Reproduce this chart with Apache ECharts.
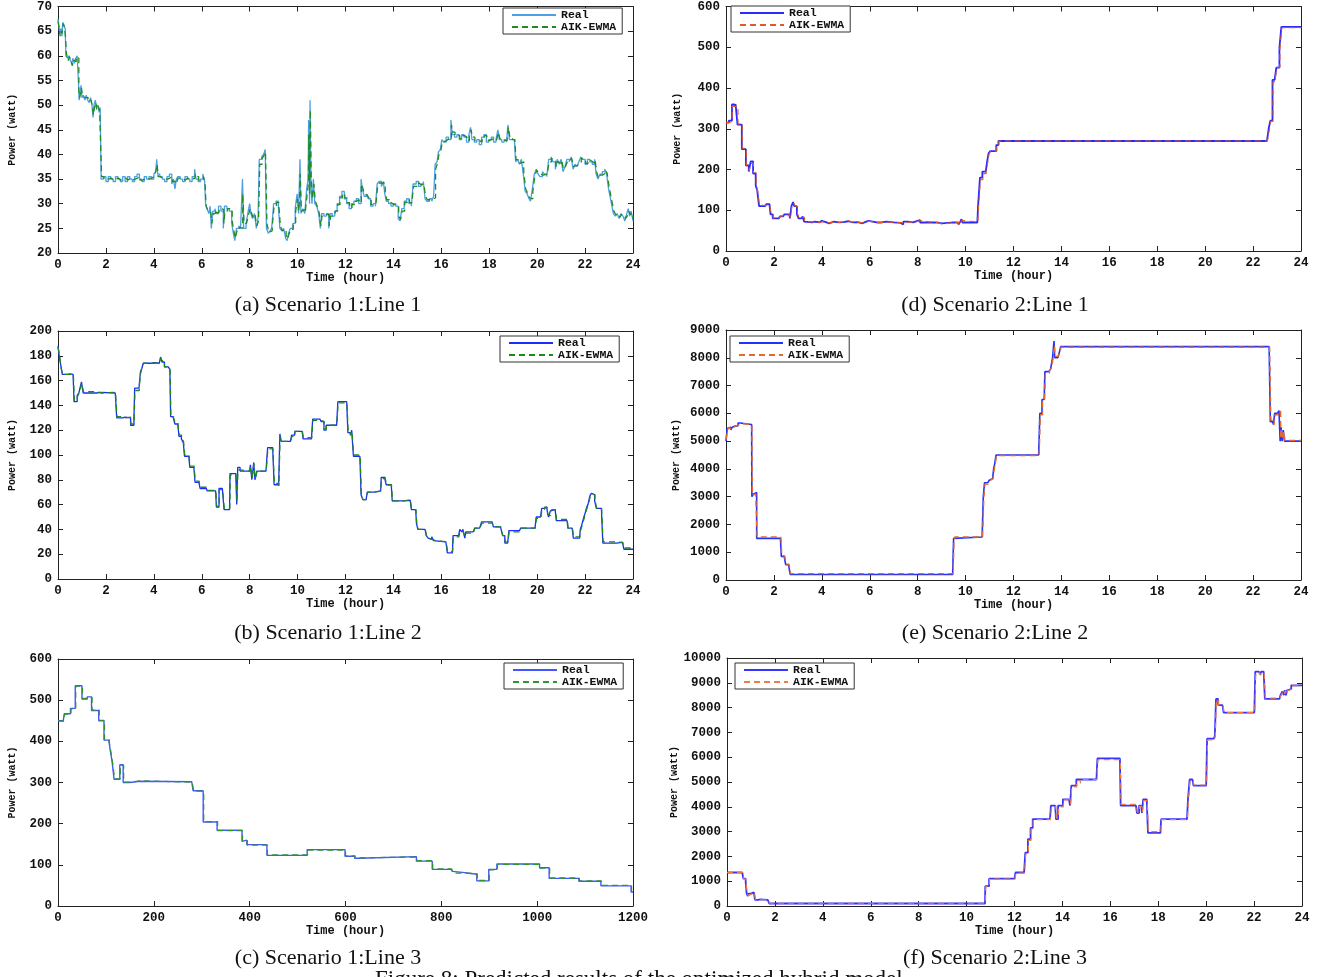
<!DOCTYPE html>
<html>
<head>
<meta charset="utf-8">
<script src="https://cdn.jsdelivr.net/npm/echarts@6/dist/echarts.min.js"></script>
<style>
html,body{margin:0;padding:0;background:#fff;}
#chart{width:1326px;height:977px;}
</style>
</head>
<body>
<div id="chart"></div>
<script>
// ---------- DATA (flat lists of time, value pairs) ----------
const a_real = [0,67.5, 0.04,66, 0.08,64.5, 0.12,65.5, 0.16,64, 0.2,66.8, 0.26,66, 0.3,65.5, 0.33,60, 0.4,59.5, 0.46,60, 0.52,59, 0.58,58.5, 0.62,59.5, 0.68,58.5, 0.74,59.5, 0.8,60, 0.86,54, 0.88,51, 0.92,52, 0.96,54, 1.0,51.5, 1.06,52, 1.12,51, 1.18,52, 1.24,51, 1.3,50.5, 1.36,51.5, 1.42,50, 1.46,47.5, 1.5,50, 1.56,51, 1.6,49.5, 1.66,50, 1.72,48.5, 1.76,49.5, 1.8,35, 1.9,35.5, 2.0,34.5, 2.1,35.5, 2.2,35, 2.3,34.5, 2.4,35.5, 2.5,35, 2.6,34.5, 2.7,35.5, 2.8,34.5, 2.9,35.5, 3.0,35, 3.1,34.5, 3.2,35.5, 3.3,36, 3.4,35, 3.5,34.5, 3.6,35.5, 3.7,35, 3.8,35.5, 3.9,35, 4.0,36, 4.08,36.5, 4.12,39, 4.16,36, 4.25,35.5, 4.35,35, 4.45,34.5, 4.55,35.5, 4.65,36, 4.75,34, 4.82,35, 4.88,33, 4.94,35, 5.0,35.5, 5.1,35, 5.2,34.5, 5.3,35.5, 5.4,35, 5.5,34.5, 5.6,35.5, 5.7,37, 5.76,35, 5.85,34.5, 5.95,35, 6.05,36, 6.12,34.5, 6.16,30, 6.22,29, 6.3,28, 6.35,29.5, 6.4,25, 6.46,28.5, 6.55,29, 6.6,28, 6.7,29.5, 6.8,28.5, 6.9,25, 6.95,29.5, 7.05,29, 7.15,28.5, 7.25,26, 7.32,24, 7.38,22.5, 7.45,25, 7.55,25.5, 7.62,25, 7.7,35, 7.75,25, 7.85,26, 7.92,28, 8.0,30, 8.05,28, 8.12,27, 8.2,28, 8.28,25, 8.35,27, 8.4,39, 8.5,39.5, 8.58,40, 8.65,41, 8.7,25, 8.78,24, 8.85,24.5, 8.92,25, 9.0,30, 9.1,30.5, 9.2,29.5, 9.26,25, 9.34,24.5, 9.42,25, 9.5,23, 9.56,22.5, 9.62,24, 9.7,25, 9.8,26, 9.9,29, 9.98,32, 10.04,28, 10.1,39, 10.14,28, 10.22,29, 10.3,28, 10.38,33, 10.44,35, 10.46,47, 10.5,30, 10.52,51, 10.56,34, 10.6,30, 10.66,35, 10.72,30, 10.8,29.5, 10.88,28, 10.95,25, 11.0,28, 11.1,27.5, 11.2,28, 11.3,25, 11.36,28, 11.45,27.5, 11.55,28.5, 11.65,30, 11.75,31.5, 11.85,32.5, 11.95,31, 12.05,30, 12.15,29, 12.25,30, 12.35,30.5, 12.45,31, 12.55,30, 12.65,35, 12.7,33, 12.78,31.5, 12.88,32, 12.95,31, 13.05,29.5, 13.15,30, 13.25,29.5, 13.32,34, 13.4,34.5, 13.5,33.5, 13.58,34.5, 13.64,32, 13.7,30.5, 13.8,30, 13.9,29.5, 14.0,30, 14.1,29.5, 14.2,27, 14.28,26.5, 14.35,29, 14.45,30.5, 14.55,31, 14.65,30, 14.75,29.5, 14.82,34, 14.95,34.5, 15.05,33.5, 15.15,34, 15.25,34.5, 15.32,31, 15.4,30.5, 15.5,31, 15.6,30.5, 15.68,31.5, 15.74,38, 15.82,38.5, 15.88,40.5, 15.96,41, 16.02,43, 16.1,42.5, 16.2,43.5, 16.3,43, 16.4,47, 16.46,44, 16.55,43.5, 16.65,44, 16.75,43, 16.85,44, 16.95,43.5, 17.05,42.5, 17.15,44, 17.22,45.5, 17.28,43, 17.38,42.5, 17.48,43, 17.58,42, 17.68,43.5, 17.78,44, 17.88,42.5, 17.98,43, 18.08,43.5, 18.18,42.5, 18.28,43, 18.36,45, 18.42,43, 18.52,42.5, 18.62,43, 18.72,42.5, 18.78,46, 18.84,43, 18.95,43, 19.05,43, 19.1,38.5, 19.18,39, 19.26,38, 19.34,39, 19.42,36, 19.5,32.5, 19.58,32, 19.66,31, 19.72,30.5, 19.8,33, 19.88,36, 19.96,37, 20.04,36, 20.12,35.5, 20.22,36.5, 20.3,36, 20.4,35.5, 20.48,39, 20.58,39.5, 20.66,38.5, 20.76,37, 20.84,39, 20.92,38, 21.0,39, 21.08,36.5, 21.16,37.5, 21.24,39, 21.34,38.5, 21.42,39.5, 21.5,37, 21.58,38, 21.66,37.5, 21.74,38.5, 21.82,39.5, 21.9,39, 22.0,38, 22.1,39, 22.2,38.5, 22.3,38, 22.4,39, 22.46,36, 22.54,35, 22.62,36, 22.72,36.5, 22.82,37, 22.9,36, 22.98,33, 23.04,31.5, 23.1,30, 23.18,28, 23.26,27.5, 23.34,28, 23.42,27, 23.5,28, 23.58,27.5, 23.66,26.5, 23.74,28, 23.8,29, 23.86,27.5, 23.92,28.5, 24,26.5];
const a_aik = [0,67, 0.05,65.5, 0.09,64, 0.13,65, 0.17,64.5, 0.22,66.5, 0.27,65.8, 0.31,64, 0.35,60.5, 0.42,59, 0.48,59.8, 0.54,58.8, 0.6,58, 0.64,59.2, 0.7,58.8, 0.76,59.8, 0.82,59.5, 0.87,53, 0.9,51.5, 0.94,52.5, 0.98,53.5, 1.02,51.8, 1.08,51.5, 1.14,51.8, 1.2,51.5, 1.26,50.8, 1.32,51, 1.38,51.2, 1.44,49.5, 1.48,48, 1.52,49.5, 1.58,50.5, 1.62,49, 1.68,49.8, 1.74,48.8, 1.78,49, 1.82,35.5, 1.92,35, 2.02,35, 2.12,35.2, 2.22,34.8, 2.32,35, 2.42,35.2, 2.52,34.8, 2.62,35, 2.72,35.2, 2.82,34.8, 2.92,35.2, 3.02,34.8, 3.12,35, 3.22,35.2, 3.32,35.5, 3.42,34.8, 3.52,35, 3.62,35.2, 3.72,35, 3.82,35.2, 3.92,35.5, 4.02,35.5, 4.1,37, 4.14,38, 4.18,35.5, 4.27,35.2, 4.37,35, 4.47,35, 4.57,35.2, 4.67,35.5, 4.77,34.5, 4.84,34.5, 4.9,34, 4.96,34.5, 5.02,35.2, 5.12,35, 5.22,34.8, 5.32,35.2, 5.42,35, 5.52,35, 5.62,35.2, 5.72,36, 5.78,35.5, 5.87,34.8, 5.97,35, 6.07,35.5, 6.14,34, 6.18,29.5, 6.24,28.8, 6.32,28.5, 6.37,28.5, 6.42,26, 6.48,28, 6.57,28.8, 6.62,28.2, 6.72,29, 6.82,28.8, 6.92,26, 6.97,28.5, 7.07,29, 7.17,28.5, 7.27,26.5, 7.34,24.5, 7.4,23, 7.47,24.5, 7.57,25.2, 7.64,25, 7.71,32, 7.77,26, 7.87,25.8, 7.94,27.5, 8.02,29, 8.07,28.2, 8.14,27.2, 8.22,27.8, 8.3,25.5, 8.37,26.5, 8.42,38, 8.52,39.2, 8.6,39.8, 8.66,40.5, 8.72,26, 8.8,24.2, 8.87,24.5, 8.94,25.2, 9.02,29.5, 9.12,30.2, 9.22,29.5, 9.28,25.5, 9.36,24.5, 9.44,24.8, 9.52,23.5, 9.58,22.8, 9.64,23.8, 9.72,24.8, 9.82,26, 9.92,28.5, 10.0,31, 10.06,28.5, 10.11,36, 10.16,28.5, 10.24,28.8, 10.32,28.2, 10.4,32, 10.45,34, 10.47,44, 10.51,32, 10.53,49, 10.57,35, 10.62,31, 10.68,34, 10.74,30.5, 10.82,29.5, 10.9,28.2, 10.97,25.5, 11.02,27.5, 11.12,27.8, 11.22,27.8, 11.32,25.5, 11.38,27.5, 11.47,27.8, 11.57,28.5, 11.67,29.8, 11.77,31.2, 11.87,32, 11.97,31.2, 12.07,30.2, 12.17,29.2, 12.27,29.8, 12.37,30.5, 12.47,30.8, 12.57,30.2, 12.66,34, 12.72,33.2, 12.8,31.8, 12.9,31.8, 12.97,31.2, 13.07,29.8, 13.17,30, 13.27,29.8, 13.34,33.5, 13.42,34.2, 13.52,33.8, 13.6,34.2, 13.66,32.5, 13.72,30.8, 13.82,30.2, 13.92,29.8, 14.02,29.8, 14.12,29.5, 14.22,27.5, 14.3,26.8, 14.37,28.5, 14.47,30.2, 14.57,30.8, 14.67,30.2, 14.77,29.8, 14.84,33.5, 14.97,34.2, 15.07,33.8, 15.17,34, 15.27,34.2, 15.34,31.5, 15.42,30.8, 15.52,30.8, 15.62,30.8, 15.7,31.2, 15.76,37, 15.84,38.2, 15.9,40, 15.98,40.8, 16.04,42.5, 16.12,42.8, 16.22,43.2, 16.32,43, 16.42,46, 16.48,44.5, 16.57,43.8, 16.67,43.8, 16.77,43.2, 16.87,43.8, 16.97,43.5, 17.07,42.8, 17.17,43.8, 17.24,45, 17.3,43.5, 17.4,42.8, 17.5,42.8, 17.6,42.5, 17.7,43.2, 17.8,43.8, 17.9,42.8, 18.0,43, 18.1,43.2, 18.2,42.8, 18.3,43, 18.38,44.5, 18.44,43.2, 18.54,42.8, 18.64,42.8, 18.74,42.8, 18.8,45.5, 18.86,43.5, 18.97,43, 19.07,42.5, 19.12,39, 19.2,38.8, 19.28,38.2, 19.36,38.5, 19.44,36.5, 19.52,33, 19.6,32.2, 19.68,31.2, 19.74,31, 19.82,32.5, 19.9,35.5, 19.98,36.8, 20.06,36.2, 20.14,35.8, 20.24,36.2, 20.32,36, 20.42,35.8, 20.5,38.5, 20.6,39.2, 20.68,38.8, 20.78,37.5, 20.86,38.5, 20.94,38.2, 21.02,38.8, 21.1,37, 21.18,37.5, 21.26,38.5, 21.36,38.8, 21.44,39.2, 21.52,37.5, 21.6,37.8, 21.68,37.8, 21.76,38.2, 21.84,39.2, 21.92,39, 22.02,38.2, 22.12,38.8, 22.22,38.5, 22.32,38.2, 22.42,38.8, 22.48,36.5, 22.56,35.2, 22.64,35.8, 22.74,36.2, 22.84,36.8, 22.92,36.2, 23.0,33.5, 23.06,32, 23.12,30.5, 23.2,28.5, 23.28,27.8, 23.36,27.8, 23.44,27.2, 23.52,27.8, 23.6,27.5, 23.68,27, 23.76,27.5, 23.82,28.5, 23.88,27.8, 23.94,28.2, 24,27];

const b_real = [0,188, 0.05,180, 0.12,172, 0.18,165, 0.4,165.5, 0.5,165, 0.63,165, 0.67,143, 0.8,148, 0.87,150, 0.93,155, 0.98,159, 1.05,150, 1.6,150.5, 1.8,150, 2.39,150, 2.45,130, 2.7,130.5, 2.8,130, 3.03,124, 3.17,130, 3.2,154, 3.38,155, 3.44,167, 3.5,170, 3.56,174, 3.9,174.5, 4.0,174, 4.23,175, 4.28,179, 4.34,175, 4.44,171, 4.6,170, 4.67,169, 4.7,131, 4.8,130, 4.88,125, 5.0,124, 5.05,115, 5.15,113, 5.23,110, 5.28,99, 5.46,99, 5.5,90, 5.67,90, 5.72,78, 5.88,78, 5.93,73, 6.19,72.5, 6.23,71, 6.58,71, 6.61,58, 6.68,58, 6.72,73, 6.86,73, 6.93,56, 7.16,56, 7.18,85, 7.42,85, 7.46,60, 7.5,90, 7.6,87, 8.0,87, 8.03,92, 8.09,80, 8.17,94, 8.22,80, 8.3,87, 8.68,87, 8.75,106, 8.96,106, 9.02,76, 9.21,75, 9.26,117, 9.32,111, 9.7,111, 9.75,116, 9.88,119, 10.19,119, 10.23,113, 10.58,113, 10.63,129, 10.93,129, 10.98,127, 11.1,120, 11.19,124, 11.63,124, 11.68,143, 12.05,143, 12.1,118, 12.2,116, 12.26,120, 12.33,99, 12.6,99, 12.65,68, 12.72,64, 12.86,64, 12.91,70, 13.2,71, 13.47,70, 13.49,82, 13.65,80, 13.7,76, 13.91,76, 13.95,63, 14.4,63.5, 14.7,63, 14.75,56, 14.93,55, 14.96,45, 15.02,40, 15.32,40, 15.37,35, 15.45,33, 15.5,32, 15.6,34, 15.67,31, 15.75,30, 16.19,30, 16.25,21, 16.46,21, 16.49,35, 16.72,35, 16.77,40, 16.85,38, 16.9,40, 16.98,33, 17.02,38, 17.33,38, 17.39,41, 17.6,41, 17.68,46, 18.12,46, 18.17,42, 18.47,42, 18.52,38, 18.56,35, 18.65,29, 18.77,29, 18.82,39, 19.26,39, 19.31,41, 19.91,41, 19.96,50, 20.14,50, 20.19,57, 20.3,58, 20.4,57, 20.44,52, 20.48,50, 20.55,55, 20.6,56, 20.75,56, 20.8,47, 21.25,47, 21.28,41, 21.46,41, 21.51,33, 21.77,33, 21.8,40, 21.88,45, 21.95,50, 22.0,53, 22.07,58, 22.12,60, 22.2,67, 22.26,69, 22.33,68, 22.4,63, 22.47,57, 22.68,57, 22.74,29, 23.3,29.5, 23.56,29, 23.62,24, 24,24];
const b_aik = [0,187, 0.06,181, 0.13,170, 0.19,165, 0.42,165, 0.52,165.5, 0.64,164, 0.68,144, 0.81,147, 0.88,150, 0.94,154, 0.99,158, 1.06,151, 1.62,150, 1.82,150.5, 2.4,149, 2.46,131, 2.72,130, 2.82,130.5, 3.04,125, 3.18,129, 3.21,152, 3.39,155, 3.45,166, 3.51,171, 3.57,174, 3.92,174, 4.02,174.5, 4.24,175, 4.29,178, 4.35,176, 4.45,171, 4.62,170, 4.68,168, 4.71,132, 4.82,130, 4.89,126, 5.01,124, 5.06,116, 5.16,113, 5.24,111, 5.29,100, 5.47,99, 5.51,91, 5.68,90, 5.73,79, 5.89,78, 5.94,74, 6.2,72.5, 6.24,71.5, 6.59,71, 6.62,59, 6.69,58, 6.73,72, 6.87,73, 6.94,57, 7.17,56, 7.19,84, 7.43,85, 7.47,62, 7.51,88, 7.61,87, 8.01,87, 8.04,91, 8.1,81, 8.18,93, 8.23,81, 8.31,87, 8.69,87, 8.76,105, 8.97,106, 9.03,77, 9.22,75, 9.27,115, 9.33,111, 9.71,111, 9.76,115, 9.89,119, 10.2,119, 10.24,114, 10.59,113, 10.64,128, 10.94,129, 10.99,127, 11.11,121, 11.2,124, 11.64,124, 11.69,142, 12.06,143, 12.11,119, 12.21,116, 12.27,119, 12.34,100, 12.61,99, 12.66,69, 12.73,64, 12.87,64, 12.92,70, 13.21,71, 13.48,70, 13.5,81, 13.66,80, 13.71,76, 13.92,76, 13.96,63, 14.42,63.5, 14.71,63, 14.76,56, 14.94,55, 14.97,46, 15.03,40, 15.33,40, 15.38,35, 15.46,33, 15.51,32, 15.61,33, 15.68,31, 15.76,30, 16.2,30, 16.26,22, 16.47,21, 16.5,34, 16.73,35, 16.78,39, 16.86,38, 16.91,39, 16.99,34, 17.03,37, 17.34,38, 17.4,41, 17.61,41, 17.69,45, 18.13,46, 18.18,42, 18.48,42, 18.53,38, 18.57,35, 18.66,30, 18.78,29, 18.83,38, 19.27,39, 19.32,41, 19.92,41, 19.97,49, 20.15,50, 20.2,56, 20.31,58, 20.41,57, 20.45,52, 20.49,51, 20.56,54, 20.61,56, 20.76,56, 20.81,48, 21.26,47, 21.29,41, 21.47,41, 21.52,34, 21.78,33, 21.81,39, 21.89,44, 21.96,49, 22.01,53, 22.08,57, 22.13,60, 22.21,66, 22.27,68, 22.34,68, 22.41,64, 22.48,57, 22.69,57, 22.75,30, 23.31,29.5, 23.57,29, 23.63,25, 24,24];

const c_real = [0,450, 11,450, 13,467, 26,480, 36,535, 50,503, 61,508, 70,475, 85,450, 96,403, 106,400, 109,378, 113,350, 117,308, 129,343, 136,300, 150,303, 171,306, 175,302, 279,302, 282,280, 303,204, 332,184, 384,157, 388,160, 394,149, 436,123, 520,137, 599,121, 619,116, 628,120, 748,109, 781,89, 820,89, 823,84, 827,81, 849,77, 874,61, 899,89, 916,102, 1005,93, 1025,67, 1087,60, 1133,49, 1196,34, 1200,34];
const c_aik = [0,449, 12,451, 14,466, 27,479, 37,534, 51,504, 62,507, 71,476, 86,451, 97,404, 107,399, 110,376, 114,348, 118,309, 130,342, 137,301, 151,304, 172,305, 176,301, 280,302, 283,279, 304,205, 333,183, 385,158, 389,159, 395,148, 437,124, 521,136, 600,122, 620,117, 629,119, 749,110, 782,90, 821,88, 824,85, 828,80, 850,78, 875,62, 900,88, 917,101, 1006,92, 1026,68, 1088,61, 1134,50, 1197,35, 1200,35];

const d_real = [0,315, 0.12,320, 0.25,360, 0.35,355, 0.4,360, 0.48,310, 0.66,250, 0.83,210, 0.95,195, 1.03,220, 1.13,190, 1.24,160, 1.3,150, 1.38,110, 1.63,110, 1.68,115, 1.82,110, 1.86,90, 1.95,80, 2.21,80, 2.25,85, 2.39,85, 2.43,90, 2.64,90, 2.67,80, 2.73,110, 2.8,120, 2.85,110, 2.92,110, 2.96,90, 3.03,80, 3.15,78, 3.2,85, 3.26,72, 3.31,70, 3.6,72, 3.7,70, 3.9,74, 4.0,70, 4.2,68, 4.3,72, 4.5,70, 4.7,71, 4.9,73, 5.1,70, 5.3,71, 5.5,68, 5.7,72, 5.85,74, 5.95,70, 6.3,70, 6.5,72, 6.7,70, 7.0,69, 7.3,65, 7.4,72, 7.6,70, 7.8,74, 8.0,76, 8.1,70, 8.5,70, 8.8,68, 9.0,70, 9.5,70, 9.7,65, 9.78,72, 9.83,78, 9.87,70, 10.49,70, 10.52,110, 10.6,180, 10.7,195, 10.84,195, 10.9,220, 10.96,240, 11.02,245, 11.19,245, 11.28,260, 11.37,270, 22.58,270, 22.65,300, 22.72,320, 22.81,420, 22.9,420, 22.97,450, 23.05,450, 23.1,500, 23.18,550, 24,550];
const d_aik = [0,315, 0.13,318, 0.26,355, 0.36,358, 0.42,355, 0.5,312, 0.68,252, 0.85,208, 0.97,197, 1.05,215, 1.15,192, 1.26,162, 1.32,148, 1.4,112, 1.65,110, 1.7,114, 1.84,108, 1.88,92, 1.97,81, 2.23,81, 2.27,86, 2.41,85, 2.45,89, 2.66,89, 2.69,82, 2.75,108, 2.82,118, 2.87,112, 2.94,108, 2.98,92, 3.05,82, 3.17,78, 3.22,83, 3.28,73, 3.33,71, 3.62,71, 3.72,70, 3.92,72, 4.02,70, 4.22,69, 4.32,71, 4.52,70, 4.72,72, 4.92,74, 5.12,70, 5.32,70, 5.52,69, 5.72,71, 5.87,73, 5.97,70, 6.32,70, 6.52,71, 6.72,70, 7.02,70, 7.32,67, 7.42,71, 7.62,70, 7.82,73, 8.02,75, 8.12,71, 8.52,70, 8.82,66, 9.02,70, 9.52,70, 9.72,62, 9.8,70, 9.85,75, 9.89,71, 10.51,70, 10.54,105, 10.62,175, 10.72,190, 10.86,196, 10.92,215, 10.98,238, 11.04,244, 11.21,246, 11.3,258, 11.39,270, 22.6,270, 22.67,295, 22.74,318, 22.83,415, 22.92,420, 22.99,448, 23.07,452, 23.12,495, 23.2,548, 24,550];

const e_real = [0,5000, 0.05,5450, 0.12,5500, 0.2,5400, 0.26,5500, 0.3,5550, 0.41,5550, 0.5,5650, 0.59,5600, 1.07,5600, 1.08,3000, 1.15,3100, 1.22,3150, 1.28,1500, 2.27,1500, 2.31,850, 2.43,850, 2.49,550, 2.61,550, 2.68,200, 9.46,200, 9.5,1500, 9.53,1550, 10.69,1550, 10.74,3000, 10.79,3500, 10.92,3500, 11.0,3600, 11.06,3650, 11.13,3650, 11.17,4000, 11.22,4200, 11.27,4500, 13.05,4500, 13.1,6000, 13.19,6500, 13.28,6500, 13.31,7500, 13.48,7550, 13.55,7600, 13.63,8000, 13.69,8600, 13.72,8000, 13.85,8050, 13.9,8150, 13.97,8400, 22.67,8400, 22.72,5700, 22.81,5700, 22.85,5600, 22.9,6000, 23.02,6050, 23.08,6100, 23.13,5000, 23.17,5500, 23.21,5000, 23.26,5400, 23.31,5000, 24,5000];
const e_aik = [0,5050, 0.06,5400, 0.13,5500, 0.21,5420, 0.27,5480, 0.31,5550, 0.42,5560, 0.51,5630, 0.6,5600, 1.08,5580, 1.1,3050, 1.17,3100, 1.24,3100, 1.3,1550, 2.29,1500, 2.33,870, 2.45,830, 2.51,570, 2.63,540, 2.7,230, 9.48,200, 9.52,1450, 9.55,1550, 10.71,1550, 10.76,2950, 10.81,3450, 10.94,3500, 11.02,3580, 11.08,3650, 11.15,3660, 11.19,3950, 11.24,4180, 11.29,4480, 13.07,4500, 13.12,5950, 13.21,6480, 13.3,6500, 13.33,7450, 13.5,7540, 13.57,7620, 13.65,7950, 13.71,8450, 13.74,8050, 13.87,8050, 13.92,8200, 13.99,8380, 22.69,8400, 22.74,5750, 22.83,5700, 22.87,5580, 22.92,5950, 23.04,6050, 23.1,6080, 23.15,5100, 23.19,5450, 23.23,5050, 23.28,5350, 23.33,5020, 24,5000];

const f_real = [0,1350, 0.64,1350, 0.68,1100, 0.78,950, 0.82,500, 0.87,400, 0.9,500, 1.0,550, 1.12,550, 1.17,250, 1.3,270, 1.4,250, 1.7,250, 1.76,100, 10.77,100, 10.78,800, 10.94,1100, 12.0,1100, 12.04,1350, 12.4,1350, 12.45,2150, 12.56,2700, 12.67,3150, 12.76,3500, 13.48,3500, 13.52,4050, 13.7,4050, 13.73,3500, 13.82,4050, 14.02,4300, 14.27,4300, 14.32,4050, 14.37,4850, 14.58,5100, 15.42,5100, 15.46,5950, 16.4,5950, 16.43,4050, 17.07,4050, 17.11,3750, 17.2,4050, 17.29,4050, 17.32,3750, 17.37,4300, 17.52,4300, 17.57,2950, 18.09,2950, 18.12,3500, 19.2,3500, 19.24,4300, 19.31,5100, 19.43,5100, 19.47,4850, 20.0,4850, 20.04,6750, 20.32,6750, 20.36,6850, 20.41,8350, 20.5,8100, 20.68,8100, 20.73,7800, 22.01,7800, 22.05,9450, 22.2,9400, 22.25,9350, 22.3,9450, 22.4,9450, 22.45,8350, 23.06,8350, 23.1,8500, 23.18,8650, 23.24,8500, 23.28,8700, 23.33,8500, 23.38,8700, 23.45,8750, 23.55,8900, 24,8900];
const f_aik = [0,1350, 0.66,1340, 0.7,1080, 0.8,930, 0.84,520, 0.89,420, 0.92,480, 1.02,540, 1.14,550, 1.19,270, 1.32,260, 1.42,250, 1.72,250, 1.78,110, 10.79,100, 10.8,780, 10.96,1080, 12.02,1100, 12.06,1330, 12.42,1350, 12.47,2100, 12.58,2650, 12.69,3100, 12.78,3480, 13.5,3500, 13.54,3950, 13.72,4050, 13.75,3550, 13.84,4000, 14.04,4280, 14.29,4300, 14.34,4100, 14.39,4800, 14.6,5050, 14.75,4950, 14.8,5100, 15.44,5100, 15.48,5900, 16.42,5950, 16.45,4100, 17.09,4050, 17.13,3780, 17.22,4020, 17.31,4050, 17.34,3780, 17.39,4250, 17.54,4300, 17.59,3000, 18.11,2950, 18.14,3480, 19.22,3500, 19.26,4280, 19.33,5050, 19.45,5100, 19.49,4880, 20.02,4850, 20.06,6700, 20.34,6750, 20.38,6850, 20.43,8300, 20.52,8100, 20.7,8100, 20.75,7800, 22.03,7800, 22.07,9400, 22.22,9380, 22.27,9300, 22.32,9420, 22.42,9450, 22.47,8380, 23.08,8350, 23.12,8480, 23.2,8620, 23.26,8520, 23.3,8680, 23.35,8520, 23.4,8680, 23.47,8740, 23.57,8880, 24,8900];

// axis ranges [min, max, interval]
const x_hours = [0, 24, 2];
const x_line3 = [0, 1200, 200];
const y_a = [20, 70, 5];
const y_b = [0, 200, 20];
const y_c = [0, 600, 100];
const y_d = [0, 600, 100];
const y_e = [0, 9000, 1000];
const y_f = [0, 10000, 1000];

const legendNames = ['Real', 'AIK-EWMA'];
const captions = ['(a) Scenario 1:Line 1', '(b) Scenario 1:Line 2', '(c) Scenario 1:Line 3',
                  '(d) Scenario 2:Line 1', '(e) Scenario 2:Line 2', '(f) Scenario 2:Line 3'];
const figCaption = 'Figure 8: Predicted results of the optimized hybrid model';
const xName = 'Time (hour)';
const yName = 'Power (watt)';

// ---------- LAYOUT / STYLE ----------
function pairs(flat){ const o=[]; for(let i=0;i<flat.length;i+=2) o.push([flat[i], flat[i+1]]); return o; }

const panels = [
  {real:a_real, aik:a_aik, x:x_hours, y:y_a, grid:{left:58,top:5,width:575,height:248}, cR:'#4b9fe2', cA:'#1f8c1f', wR:1.3, wA:1.3, leg:{left:503,top:8}, cap:[328,305], yGap:41},
  {real:b_real, aik:b_aik, x:x_hours, y:y_b, grid:{left:58,top:331,width:575,height:248}, cR:'#1c2cff', cA:'#1a8a1a', wR:1.3, wA:1.3, leg:{left:500,top:336}, cap:[328,633], yGap:41},
  {real:c_real, aik:c_aik, x:x_line3, y:y_c, grid:{left:58,top:659,width:575,height:247}, cR:'#4456ff', cA:'#2e962e', wR:1.4, wA:1.3, leg:{left:504,top:663}, cap:[328,958], yGap:41},
  {real:d_real, aik:d_aik, x:x_hours, y:y_d, grid:{left:726,top:2,width:575,height:249}, cR:'#2a2aff', cA:'#e0582c', wR:1.8, wA:1.1, leg:{left:731,top:6}, cap:[995,305], yGap:44},
  {real:e_real, aik:e_aik, x:x_hours, y:y_e, grid:{left:726,top:330,width:575,height:250}, cR:'#1f35ff', cA:'#e8672e', wR:1.6, wA:1.4, leg:{left:730,top:336}, cap:[995,633], yGap:45},
  {real:f_real, aik:f_aik, x:x_hours, y:y_f, grid:{left:727,top:658,width:575,height:248}, cR:'#3535ff', cA:'#f07a48', wR:1.8, wA:1.2, leg:{left:735,top:663}, cap:[995,958], yGap:47}
];

const MONO = 'Liberation Mono';
const axisCol = '#222';
const tickLabel = {fontFamily:MONO, fontWeight:'bold', fontSize:12.5, color:'#111', formatter: v => String(v)};

const option = {animation:false, backgroundColor:'#fff', grid:[], xAxis:[], yAxis:[], series:[], legend:[], graphic:[]};

panels.forEach((p, i) => {
  option.grid.push(Object.assign({containLabel:false, show:false}, p.grid));
  const common = {type:'value', gridIndex:i, splitLine:{show:false},
    axisLine:{show:true, onZero:false, lineStyle:{color:axisCol, width:1}},
    axisTick:{show:true, inside:true, length:5, lineStyle:{color:axisCol}}};
  option.xAxis.push(Object.assign({}, common, {position:'bottom', min:p.x[0], max:p.x[1], interval:p.x[2],
    axisLabel:Object.assign({margin:5}, tickLabel),
    name:xName, nameLocation:'middle', nameGap:15,
    nameTextStyle:{fontFamily:MONO, fontWeight:'bold', fontSize:12, color:'#111'}}));
  option.xAxis.push(Object.assign({}, common, {position:'top', min:p.x[0], max:p.x[1], interval:p.x[2], axisLabel:{show:false}}));
  option.yAxis.push(Object.assign({}, common, {position:'left', min:p.y[0], max:p.y[1], interval:p.y[2],
    axisLabel:Object.assign({margin:6}, tickLabel),
    name:yName, nameLocation:'middle', nameGap:p.yGap,
    nameTextStyle:{fontFamily:MONO, fontWeight:'bold', fontSize:10, color:'#111'}}));
  option.yAxis.push(Object.assign({}, common, {position:'right', min:p.y[0], max:p.y[1], interval:p.y[2], axisLabel:{show:false}}));

  const nR = i + '|' + legendNames[0], nA = i + '|' + legendNames[1];
  option.series.push({type:'line', name:nR, xAxisIndex:2*i, yAxisIndex:2*i, data:pairs(p.real), step:'end',
    symbol:'none', showSymbol:false, z:2, itemStyle:{color:p.cR}, lineStyle:{color:p.cR, width:p.wR, type:'solid'}});
  option.series.push({type:'line', name:nA, xAxisIndex:2*i, yAxisIndex:2*i, data:pairs(p.aik), step:'end',
    symbol:'none', showSymbol:false, z:3, itemStyle:{color:p.cA}, lineStyle:{color:p.cA, width:p.wA, type:[6,4]}});

  option.legend.push({data:[nR, nA], left:p.leg.left, top:p.leg.top, orient:'vertical',
    selectedMode:false, backgroundColor:'#fff', borderColor:'#333', borderWidth:1, borderRadius:0,
    padding:[1,6,1,8], itemGap:0, itemWidth:44, itemHeight:8,
    itemStyle:{opacity:0},
    formatter:n => n.split('|')[1],
    textStyle:{fontFamily:MONO, fontWeight:'bold', fontSize:11.5, lineHeight:11, color:'#111'}});

  option.graphic.push({type:'text', x:p.cap[0], y:p.cap[1], silent:true,
    style:{text:captions[i], font:'22px "Liberation Serif"', fill:'#111', align:'center', verticalAlign:'middle'}});
});

option.graphic.push({type:'text', x:375, y:968, silent:true,
  style:{text:figCaption, font:'23px "Liberation Serif"', fill:'#111', align:'left', verticalAlign:'top'}});

const chart = echarts.init(document.getElementById('chart'), null, {renderer:'canvas'});
chart.setOption(option);
</script>
</body>
</html>
